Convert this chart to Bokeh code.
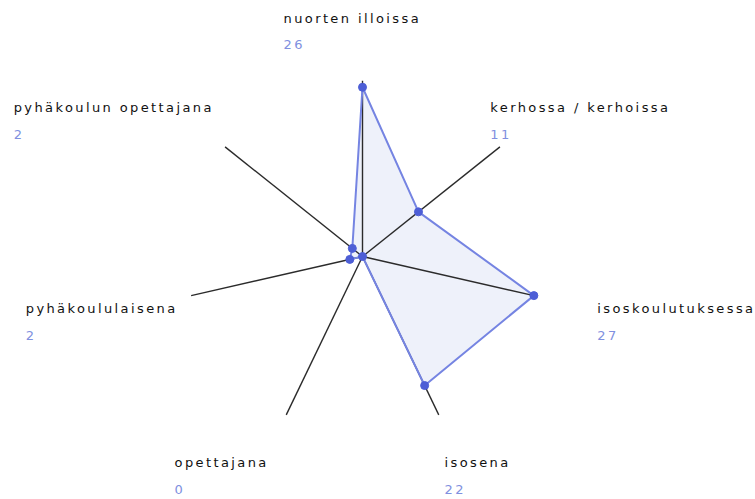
import math
from bokeh.plotting import figure
from bokeh.models import Range1d, ColumnDataSource
from bokeh.core.properties import value
from bokeh.embed import file_html
from bokeh.resources import INLINE

# ---- data ----
categories = ["nuorten illoissa", "kerhossa / kerhoissa", "isoskoulutuksessa",
              "isosena", "opettajana", "pyhäkoululaisena", "pyhäkoulun opettajana"]
counts = [26, 11, 27, 22, 0, 2, 2]

# ---- layout / style ----
W, H = 755, 499
CX, CY = 362, 256          # centre of the radar in figure pixels
PX_PER_UNIT = 6.51
AXIS_MAX = max(counts)
# label block offsets (pixels) relative to the end of each axis: (dx right, dy down)
label_offsets = [(-79, -62.5), (-9.6, -39.3), (63.4, 13.3), (5.7, 47.9),
                 (-111.7, 47.9), (-165.4, 13.3), (-211.4, -39.3)]
VALUE_GAP = 26.5

n = len(categories)
angles = [math.pi / 2 - 2 * math.pi * i / n for i in range(n)]

p = figure(width=W, height=H, output_backend="svg", toolbar_location=None,
           x_axis_location=None, y_axis_location=None,
           x_range=Range1d(-CX / PX_PER_UNIT, (W - CX) / PX_PER_UNIT),
           y_range=Range1d(-(H - CY) / PX_PER_UNIT, CY / PX_PER_UNIT),
           min_border=0, outline_line_color=None)
p.grid.visible = False
p.background_fill_color = "white"
p.border_fill_color = "white"
p.styles = {"letter-spacing": "2.4px"}

# polygon of values
px = [c * math.cos(a) for c, a in zip(counts, angles)]
py = [c * math.sin(a) for c, a in zip(counts, angles)]
p.patch(px, py, fill_color="#eef1fa", fill_alpha=1.0, line_color=None)

# axes
ex = [AXIS_MAX * math.cos(a) for a in angles]
ey = [AXIS_MAX * math.sin(a) for a in angles]
p.segment(x0=[0] * n, y0=[0] * n, x1=ex, y1=ey, line_color="#2b2b2b", line_width=1.4)

# outline + markers
p.line(px + px[:1], py + py[:1], line_color="#7584e2", line_width=2)
p.scatter(px, py, size=8, marker="circle", fill_color="#4d5ed6", line_color="#4d5ed6")

# labels
src = ColumnDataSource(dict(
    x=ex, y=ey, name=categories, val=[str(c) for c in counts],
    xo=[o[0] for o in label_offsets], yo=[o[1] for o in label_offsets],
    yo2=[o[1] + VALUE_GAP for o in label_offsets]))
p.text(x="x", y="y", text="name", x_offset="xo", y_offset="yo", source=src,
       text_font=value("DejaVu Sans"), text_font_size="13px", text_color="#111111",
       text_align="left", text_baseline="alphabetic")
p.text(x="x", y="y", text="val", x_offset="xo", y_offset="yo2", source=src,
       text_font=value("DejaVu Sans"), text_font_size="13px", text_color="#8090e0",
       text_align="left", text_baseline="alphabetic")

open("out.html", "w").write(file_html(p, INLINE))
